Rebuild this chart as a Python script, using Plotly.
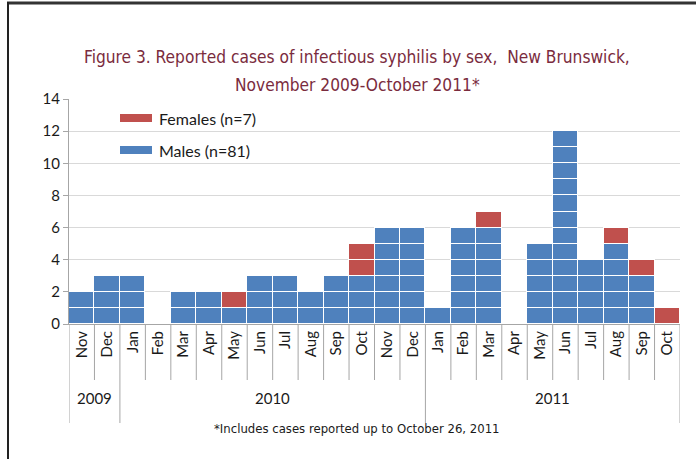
import plotly.graph_objects as go

months = ["Nov", "Dec", "Jan", "Feb", "Mar", "Apr", "May", "Jun", "Jul", "Aug", "Sep", "Oct",
          "Nov", "Dec", "Jan", "Feb", "Mar", "Apr", "May", "Jun", "Jul", "Aug", "Sep", "Oct"]
years = ["2009", "2009", "2010", "2010", "2010", "2010", "2010", "2010", "2010", "2010", "2010", "2010",
         "2010", "2010", "2011", "2011", "2011", "2011", "2011", "2011", "2011", "2011", "2011", "2011"]
males = [2, 3, 3, 0, 2, 2, 1, 3, 3, 2, 3, 3, 6, 6, 1, 6, 6, 0, 5, 12, 4, 5, 3, 0]
females = [0, 0, 0, 0, 0, 0, 1, 0, 0, 0, 0, 2, 0, 0, 0, 0, 1, 0, 0, 0, 0, 1, 1, 1]
y_ticks = [0, 2, 4, 6, 8, 10, 12, 14]

BLUE = "#4F81BD"
RED = "#C0504D"
TITLE_C = "#7A2B3D"
COND = "DejaVu Sans Condensed"

W, H = 696, 459
L, R, T, B = 69, 16, 99, 135
PW, PH = W - L - R, H - T - B


def px(xp):
    return (xp - L) / PW


def py(yp):
    return (H - B - yp) / PH


idx = list(range(len(months)))
fig = go.Figure()

# each reported case drawn as its own cell
for k in range(1, max(males) + 1):
    fig.add_trace(go.Bar(
        x=idx, y=[1 if m >= k else None for m in males],
        marker=dict(color=BLUE, line=dict(color="white", width=1.5)),
        showlegend=False, hoverinfo="skip"))
for k in range(1, max(females) + 1):
    fig.add_trace(go.Bar(
        x=idx, y=[1 if f >= k else None for f in females],
        marker=dict(color=RED, line=dict(color="white", width=1.5)),
        showlegend=False, hoverinfo="skip"))

shapes = []
annotations = []

# month separators below the axis
n = len(months)
for i in range(n + 1):
    x = i - 0.5
    long = (i == 0 or i == n or years[i] != years[i - 1])
    shapes.append(dict(type="line", xref="x", yref="paper", x0=x, x1=x,
                       y0=0, y1=py(423) if long else py(380),
                       line=dict(color="#A6A6A6", width=1)))

# year labels
groups = []
for i, yv in enumerate(years):
    if not groups or groups[-1][0] != yv:
        groups.append([yv, i, i])
    else:
        groups[-1][2] = i
for yv, a, b in groups:
    annotations.append(dict(x=(a + b) / 2, y=py(409), xref="x", yref="paper",
                            text=yv, showarrow=False,
                            font=dict(family="Lato", size=15, color="#1a1a1a")))

# legend (custom)
leg = [("Females (n=7)", RED, 118), ("Males (n=81)", BLUE, 150)]
for txt, col, yc in leg:
    shapes.append(dict(type="rect", xref="paper", yref="paper",
                       x0=px(120), x1=px(152), y0=py(yc + 4), y1=py(yc - 4),
                       fillcolor=col, line=dict(width=0)))
    annotations.append(dict(x=px(157), y=py(yc), xref="paper", yref="paper",
                            text=txt, showarrow=False, xanchor="left", yanchor="middle",
                            font=dict(family="Lato", size=16, color="#1a1a1a")))

# title
annotations.append(dict(x=px(357), y=py(45), xref="paper", yref="paper",
                        text="Figure 3. Reported cases of infectious syphilis by sex,  New Brunswick,",
                        showarrow=False, font=dict(family=COND, size=17.2, color=TITLE_C)))
annotations.append(dict(x=px(357), y=py(73), xref="paper", yref="paper",
                        text="November 2009-October 2011*",
                        showarrow=False, font=dict(family=COND, size=17.2, color=TITLE_C)))
# footnote
annotations.append(dict(x=px(357), y=py(438), xref="paper", yref="paper",
                        text="*Includes cases reported up to October 26, 2011",
                        showarrow=False, font=dict(family=COND, size=13, color="#1a1a1a")))

# outer frame (top and left)
shapes.append(dict(type="line", xref="paper", yref="paper", x0=px(7), x1=px(W),
                   y0=py(3), y1=py(3), line=dict(color="#333333", width=3)))
shapes.append(dict(type="line", xref="paper", yref="paper", x0=px(8), x1=px(8),
                   y0=py(2), y1=py(H), line=dict(color="#222222", width=2)))

fig.update_layout(
    width=W, height=H,
    margin=dict(l=L, r=R, t=T, b=B),
    barmode="stack", bargap=0,
    plot_bgcolor="white", paper_bgcolor="white",
    showlegend=False,
    shapes=shapes, annotations=annotations,
    xaxis=dict(tickmode="array", tickvals=idx, ticktext=months, tickangle=-90,
               range=[-0.5, n - 0.5], showgrid=False, showline=True,
               linecolor="#A6A6A6", ticks="", zeroline=False,
               tickfont=dict(family="Lato", size=15, color="#1a1a1a")),
    yaxis=dict(range=[0, 14], tickvals=y_ticks, showgrid=True, gridcolor="#D9D9D9",
               showline=True, linecolor="#A6A6A6", ticks="outside", ticklen=5,
               tickcolor="#A6A6A6", zeroline=False,
               tickfont=dict(family="Lato", size=15, color="#1a1a1a")),
)

fig.write_html("out.html", config={"displayModeBar": False},
               post_script="document.body.style.margin='0';document.body.style.overflow='hidden';")
